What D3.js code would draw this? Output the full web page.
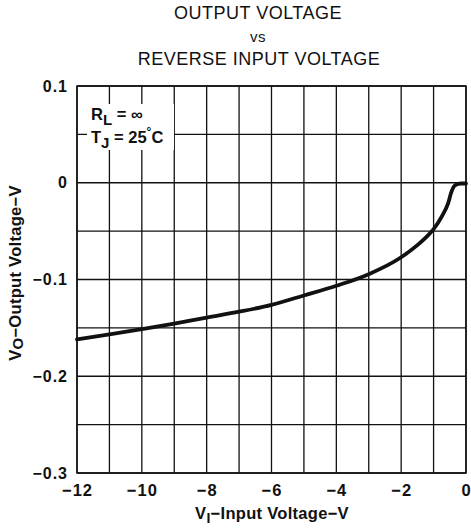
<!DOCTYPE html>
<html>
<head>
<meta charset="utf-8">
<script src="https://cdn.jsdelivr.net/npm/d3@7"></script>
<style>
  html, body { margin: 0; padding: 0; background: #fff; }
  svg { display: block; }
  text { font-family: "Liberation Sans", Arial, Helvetica, sans-serif; fill: #111; }
</style>
</head>
<body>
<svg id="chart" width="471" height="529"></svg>
<script>
// Input voltage (V) and output voltage (V) along the characteristic curve
const inputVoltage  = [-12, -11, -10, -9, -8, -7, -6, -5, -4, -3, -2, -1.5, -1.25, -1, -0.75, -0.55, -0.45, -0.33, -0.15, 0];
const outputVoltage = [-0.162, -0.1567, -0.1512, -0.1455, -0.1393, -0.1333, -0.1262, -0.1165, -0.1065, -0.0945,
                       -0.077, -0.0645, -0.057, -0.048, -0.035, -0.021, -0.0095, -0.0025, -0.0008, -0.0008];

const xTicks = [-12, -10, -8, -6, -4, -2, 0];
const xGrid  = d3.range(-12, 0.001, 1);
const yTicks = [0.1, 0, -0.1, -0.2, -0.3];
const yGrid  = d3.range(-0.3, 0.1001, 0.05);

const margin = { left: 77, right: 5, top: 86, bottom: 56 };
const W = 471, H = 529;

const svg = d3.select("#chart");
const x = d3.scaleLinear().domain([-12, 0]).range([margin.left, W - margin.right]);
const y = d3.scaleLinear().domain([-0.3, 0.1]).range([H - margin.bottom, margin.top]);

const ink = "#111";
const fmtMinus = v => (v < 0 ? "\u2212" : "") + Math.abs(v);

// grid
const grid = svg.append("g").attr("stroke", ink).attr("stroke-width", 1.3);
grid.selectAll("line.v").data(xGrid).join("line")
  .attr("x1", d => x(d)).attr("x2", d => x(d))
  .attr("y1", y(0.1)).attr("y2", y(-0.3));
grid.selectAll("line.h").data(yGrid).join("line")
  .attr("x1", x(-12)).attr("x2", x(0))
  .attr("y1", d => y(d)).attr("y2", d => y(d));

// condition label with a white backing over the grid
svg.append("rect")
  .attr("x", 87).attr("y", 104).attr("width", 87).attr("height", 46)
  .attr("fill", "#fff");

const cond = svg.append("g").attr("font-weight", "bold").attr("font-size", 16.5);
const t1 = cond.append("text").attr("x", 91).attr("y", 120);
t1.append("tspan").text("R");
t1.append("tspan").attr("font-size", 15).attr("dy", 5).text("L");
t1.append("tspan").attr("dy", -5).text(" = \u221E");
const t2 = cond.append("text").attr("x", 91).attr("y", 143);
t2.append("tspan").text("T");
t2.append("tspan").attr("font-size", 15).attr("dy", 5).text("J");
t2.append("tspan").attr("dy", -5).text(" = 25");
t2.append("tspan").attr("font-size", 12).attr("dy", -7).text("\u00B0");
t2.append("tspan").attr("dy", 7).text("C");

// curve
const line = d3.line()
  .x((d, i) => x(inputVoltage[i]))
  .y(d => y(d))
  .curve(d3.curveMonotoneX);
svg.append("path")
  .datum(outputVoltage)
  .attr("fill", "none")
  .attr("stroke", ink)
  .attr("stroke-width", 3.8)
  .attr("stroke-linecap", "round")
  .attr("stroke-linejoin", "round")
  .attr("d", line);

// axes
const xAxis = svg.append("g")
  .attr("transform", `translate(0,${y(-0.3)})`)
  .call(d3.axisBottom(x).tickValues(xTicks).tickSize(0).tickPadding(11).tickFormat(fmtMinus));
xAxis.select(".domain").remove();
xAxis.selectAll("text").attr("font-size", 16.5).attr("font-weight", "bold").attr("fill", ink)
  .attr("letter-spacing", 1)
  .attr("font-family", "Liberation Sans, Arial, sans-serif");

const yAxis = svg.append("g")
  .attr("transform", `translate(${x(-12)},0)`)
  .call(d3.axisLeft(y).tickValues(yTicks).tickSize(0).tickPadding(9)
    .tickFormat(d => d === 0 ? "0" : (d < 0 ? "\u2212" : "") + Math.abs(d).toFixed(1)));
yAxis.select(".domain").remove();
yAxis.selectAll("text").attr("font-size", 16).attr("font-weight", "bold").attr("fill", ink)
  .attr("letter-spacing", 1)
  .attr("font-family", "Liberation Sans, Arial, sans-serif");

// plot frame
svg.append("rect")
  .attr("x", x(-12)).attr("y", y(0.1))
  .attr("width", x(0) - x(-12)).attr("height", y(-0.3) - y(0.1))
  .attr("fill", "none").attr("stroke", ink).attr("stroke-width", 1.5);

// titles
const title = svg.append("g").attr("text-anchor", "middle").attr("letter-spacing", 0.5);
title.append("text").attr("x", 258).attr("y", 19).attr("font-size", 18).text("OUTPUT VOLTAGE");
title.append("text").attr("x", 258).attr("y", 42).attr("font-size", 15).text("vs");
title.append("text").attr("x", 259).attr("y", 65).attr("font-size", 18).text("REVERSE INPUT VOLTAGE");

const xt = svg.append("text")
  .attr("x", 272).attr("y", 519)
  .attr("text-anchor", "middle").attr("font-size", 16.5).attr("font-weight", "bold")
  .attr("letter-spacing", 0.3);
xt.append("tspan").text("V");
xt.append("tspan").attr("font-size", 14).attr("dy", 4).text("I");
xt.append("tspan").attr("dy", -4).text("\u2212Input Voltage\u2212V");

const yt = svg.append("text")
  .attr("transform", `translate(21,273) rotate(-90)`)
  .attr("text-anchor", "middle").attr("font-size", 16.5).attr("font-weight", "bold")
  .attr("letter-spacing", 0.3);
yt.append("tspan").text("V");
yt.append("tspan").attr("font-size", 15).attr("dy", 2).text("O");
yt.append("tspan").attr("dy", -2).text("\u2212Output Voltage\u2212V");
</script>
</body>
</html>
